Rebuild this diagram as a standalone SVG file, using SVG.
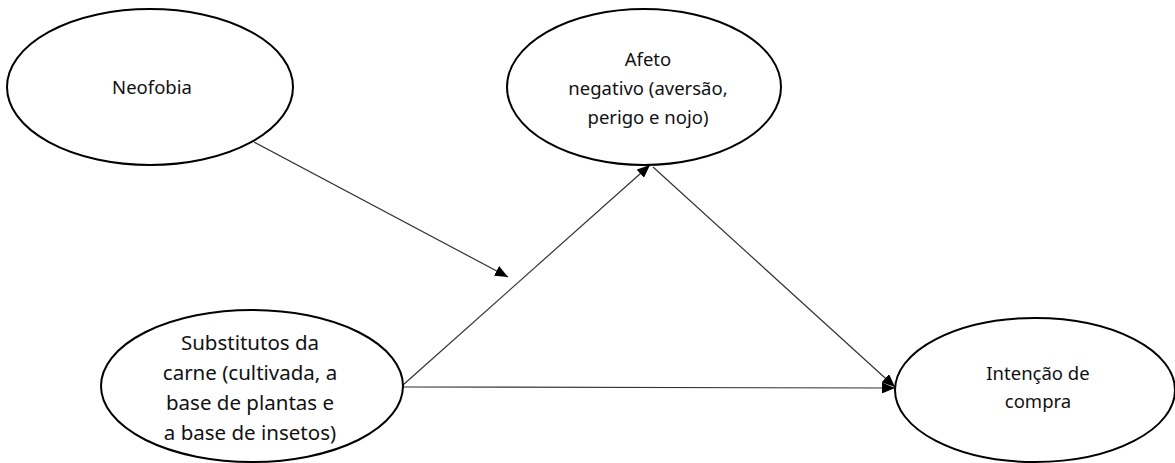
<svg xmlns="http://www.w3.org/2000/svg" width="1175" height="463" viewBox="0 0 1175 463">
<style>
.node ellipse{fill:#fff;stroke:#000;stroke-width:2}
.node text{font-family:"Noto Sans","Open Sans",sans-serif;font-size:18.5px;fill:#111;text-anchor:middle}
#substitutos text{font-size:20.5px}
.edge{stroke:#333;stroke-width:1.2;fill:none;marker-end:url(#arr)}
</style>
<defs>
<marker id="arr" viewBox="0 0 13 11" refX="13" refY="5.5" markerWidth="13" markerHeight="11" markerUnits="userSpaceOnUse" orient="auto">
<path d="M0,0 L13,5.5 L0,11 Z" fill="#000"/>
</marker>
</defs>
<rect width="1175" height="463" fill="#fff"/>
<g id="connectors">
<line class="edge" x1="254" y1="142" x2="508" y2="277"/>
<line class="edge" x1="403" y1="385" x2="650" y2="165"/>
<line class="edge" x1="653" y1="167" x2="895" y2="387"/>
<line class="edge" x1="403" y1="387" x2="895" y2="388"/>
</g>
<g id="neofobia" class="node">
<ellipse cx="150" cy="87" rx="143" ry="78"/>
<text x="152" y="94">Neofobia</text>
</g>
<g id="afeto" class="node">
<ellipse cx="644" cy="87" rx="137" ry="78"/>
<text x="648" y="66">Afeto</text>
<text x="648" y="95">negativo (aversão,</text>
<text x="648" y="124">perigo e nojo)</text>
</g>
<g id="substitutos" class="node">
<ellipse cx="252" cy="386" rx="151" ry="76"/>
<text x="250" y="350">Substitutos da</text>
<text x="250" y="380">carne (cultivada, a</text>
<text x="250" y="410">base de plantas e</text>
<text x="250" y="440">a base de insetos)</text>
</g>
<g id="intencao" class="node">
<ellipse cx="1035" cy="390" rx="140" ry="72"/>
<text x="1038" y="380">Intenção de</text>
<text x="1038" y="408">compra</text>
</g>
</svg>
